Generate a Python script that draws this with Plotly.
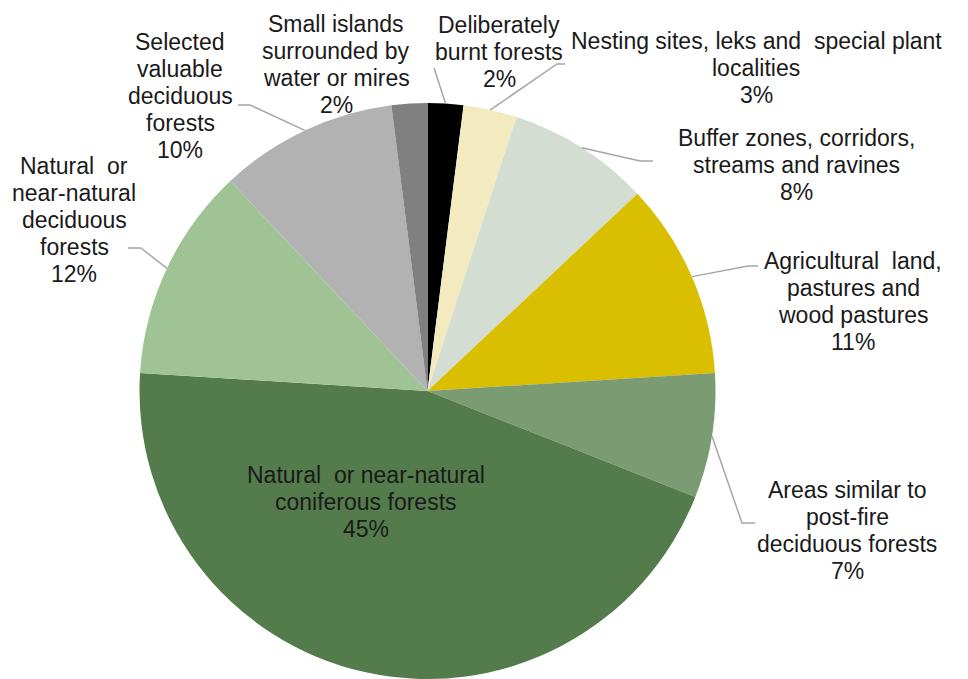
import math
import plotly.graph_objects as go

# Share of area by habitat type (percent), clockwise from 12 o'clock
categories = [
    "Deliberately burnt forests",
    "Nesting sites, leks and special plant localities",
    "Buffer zones, corridors, streams and ravines",
    "Agricultural land, pastures and wood pastures",
    "Areas similar to post-fire deciduous forests",
    "Natural or near-natural coniferous forests",
    "Natural or near-natural deciduous forests",
    "Selected valuable deciduous forests",
    "Small islands surrounded by water or mires",
]
shares = [2, 3, 8, 11, 7, 45, 12, 10, 2]

# Wrapped label text (percentage line is appended from the data)
label_lines = [
    ["Deliberately", "burnt forests"],
    ["Nesting sites, leks and\u00a0 special plant", "localities"],
    ["Buffer zones, corridors,", "streams and ravines"],
    ["Agricultural\u00a0 land,", "pastures and", "wood pastures"],
    ["Areas similar to", "post-fire", "deciduous forests"],
    ["Natural\u00a0 or near-natural", "coniferous forests"],
    ["Natural\u00a0 or", "near-natural", "deciduous", "forests"],
    ["Selected", "valuable", "deciduous", "forests"],
    ["Small islands", "surrounded by", "water or mires"],
]

slice_colors = ["#000000", "#F3EBBF", "#D3DDD2", "#DABF00", "#7B9B73",
                "#537B4B", "#A0C396", "#B2B2B2", "#808080"]

# ---- layout geometry (pixels) ----
W, H = 968, 679
CX, CY, R = 427.5, 391.0, 288.0
LINE_GAP = 27
FONT = dict(family="Liberation Sans, Arial, sans-serif", size=23, color="#1a1a1a")
LEADER = "#A6A6A6"

# label block anchor: centre x, first-line y
label_pos = [(499, 25), (756, 41), (796, 138), (853, 261), (847, 490),
             (366, 475), (74, 166), (180, 42), (336, 24)]
# leader-line bends after leaving the pie edge (None = no leader)
leader_pts = [
    [(434, 68)],
    [(557, 64), (565, 64)],
    [(640, 161), (653, 161)],
    [(748, 266), (758, 266)],
    [(742, 523), (755, 523)],
    None,
    [(141, 248), (128, 248)],
    [(250, 105), (238, 105)],
    None,
]


def px(x):
    return x / W


def py(y):
    return 1 - y / H


fig = go.Figure(go.Pie(
    labels=categories,
    values=shares,
    sort=False,
    direction="clockwise",
    rotation=0,
    marker=dict(colors=slice_colors, line=dict(width=0)),
    textinfo="none",
    hoverinfo="label+percent",
    showlegend=False,
    domain=dict(x=[px(CX - 290), px(CX + 290)], y=[0, py(CY - R)]),
))

annotations = []
shapes = []
total = sum(shares)
cum = 0
for i, v in enumerate(shares):
    mid = (cum + v / 2) / total * 2 * math.pi
    cum += v
    lines = label_lines[i] + [f"{v}%"]
    x0, y0 = label_pos[i]
    for k, t in enumerate(lines):
        annotations.append(dict(
            x=px(x0), y=py(y0 + k * LINE_GAP), xref="paper", yref="paper",
            text=t, showarrow=False, xanchor="center", yanchor="middle",
            font=FONT,
        ))
    if leader_pts[i]:
        ex = CX + R * math.sin(mid)
        ey = CY - R * math.cos(mid)
        pts = [(ex, ey)] + leader_pts[i]
        path = "M " + " L ".join(f"{px(a):.5f},{py(b):.5f}" for a, b in pts)
        shapes.append(dict(type="path", path=path, xref="paper", yref="paper",
                           line=dict(color=LEADER, width=1.5)))

fig.update_layout(
    width=W, height=H,
    margin=dict(l=0, r=0, t=0, b=0),
    paper_bgcolor="white", plot_bgcolor="white",
    annotations=annotations,
    shapes=shapes,
)

fig.write_html("out.html")
